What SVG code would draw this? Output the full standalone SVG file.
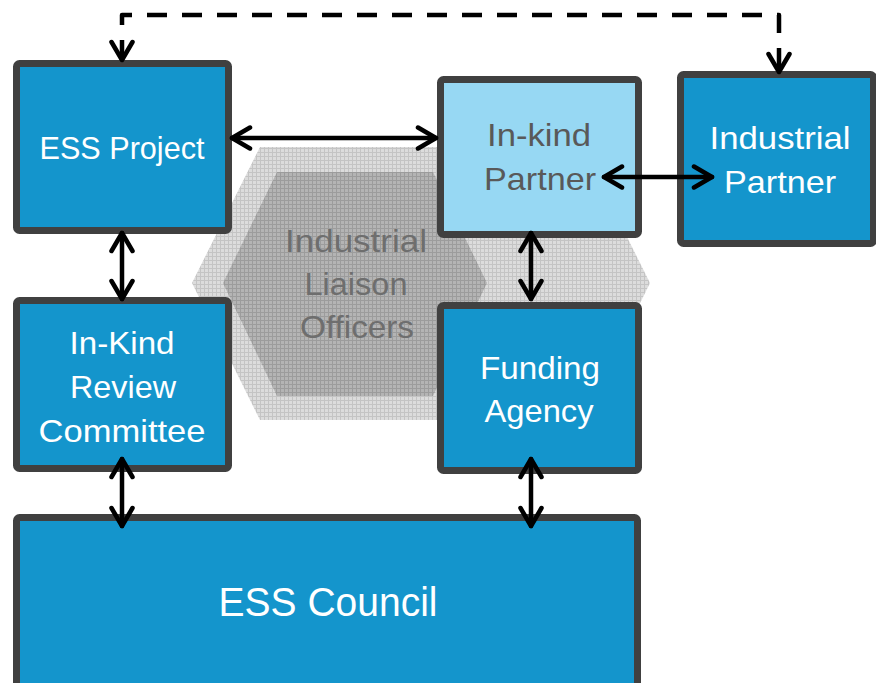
<svg xmlns="http://www.w3.org/2000/svg" width="876" height="683" viewBox="0 0 876 683">
<style>
.box{fill:#1495CC;stroke:#404040;stroke-width:7;}
.light{fill:#97D8F3;}
.t{font-family:"Liberation Sans",Arial,sans-serif;font-size:32px;text-anchor:middle;fill:#ffffff;}
.g{fill:#595959;}
.h{fill:#6e6e6e;}
.c{stroke:#000;stroke-width:4.5;fill:none;stroke-linecap:round;stroke-linejoin:round;}
.d{stroke-dasharray:20 15;stroke-linecap:butt;}
</style>
<defs>
<pattern id="p1" width="4" height="4" patternUnits="userSpaceOnUse">
<rect width="4" height="4" fill="#dcdcdc"/>
<path d="M0 0.5H4M0.5 0V4" stroke="#c4c4c4" stroke-width="1"/>
</pattern>
<pattern id="p2" width="4" height="4" patternUnits="userSpaceOnUse">
<rect width="4" height="4" fill="#b4b4b4"/>
<path d="M0 0.5H4M0.5 0V4" stroke="#9c9c9c" stroke-width="1"/>
</pattern>
<marker id="a" viewBox="0 0 26 26" refX="22" refY="13" markerWidth="26" markerHeight="26" markerUnits="userSpaceOnUse" orient="auto-start-reverse">
<path d="M4 2.5 L22 13 L4 23.5" fill="none" stroke="#000" stroke-width="4.5" stroke-linecap="round" stroke-linejoin="round"/>
</marker>
</defs>
<g id="liaison">
<polygon points="192,283 260,147 582,147 650,283 582,420 260,420" fill="url(#p1)"/>
<polygon points="223,283 277,172 433,172 487,283 433,396 277,396" fill="url(#p2)"/>
<text class="t h" x="356" y="252" textLength="142" lengthAdjust="spacingAndGlyphs">Industrial</text>
<text class="t h" x="356" y="295" textLength="103" lengthAdjust="spacingAndGlyphs">Liaison</text>
<text class="t h" x="357" y="338" textLength="114" lengthAdjust="spacingAndGlyphs">Officers</text>
</g>
<g id="ess-project">
<rect class="box" x="16.5" y="63.5" width="212" height="167" rx="3"/>
<text class="t" x="122" y="159" textLength="165" lengthAdjust="spacingAndGlyphs">ESS Project</text>
</g>
<g id="inkind-partner">
<rect class="box light" x="440.5" y="79.5" width="198" height="155" rx="3"/>
<text class="t g" x="539" y="146" textLength="104" lengthAdjust="spacingAndGlyphs">In-kind</text>
<text class="t g" x="540" y="190" textLength="112" lengthAdjust="spacingAndGlyphs">Partner</text>
</g>
<g id="industrial-partner">
<rect class="box" x="680.5" y="74.5" width="193" height="169" rx="3"/>
<text class="t" x="780" y="149" textLength="141" lengthAdjust="spacingAndGlyphs">Industrial</text>
<text class="t" x="780" y="193" textLength="112" lengthAdjust="spacingAndGlyphs">Partner</text>
</g>
<g id="review-committee">
<rect class="box" x="16.5" y="300.5" width="212" height="168" rx="3"/>
<text class="t" x="122" y="354" textLength="105" lengthAdjust="spacingAndGlyphs">In-Kind</text>
<text class="t" x="123" y="398" textLength="106" lengthAdjust="spacingAndGlyphs">Review</text>
<text class="t" x="122" y="442" textLength="167" lengthAdjust="spacingAndGlyphs">Committee</text>
</g>
<g id="funding-agency">
<rect class="box" x="440.5" y="305.5" width="198" height="165" rx="3"/>
<text class="t" x="540" y="379" textLength="120" lengthAdjust="spacingAndGlyphs">Funding</text>
<text class="t" x="539" y="422" textLength="109" lengthAdjust="spacingAndGlyphs">Agency</text>
</g>
<g id="ess-council">
<rect class="box" x="16.5" y="517.5" width="621" height="175" rx="3"/>
<text class="t" x="328" y="616" style="font-size:41px" textLength="219" lengthAdjust="spacingAndGlyphs">ESS Council</text>
</g>
<g id="connectors">
<line class="c" x1="232" y1="138" x2="436" y2="138" marker-start="url(#a)" marker-end="url(#a)"/>
<line class="c" x1="604" y1="177" x2="712" y2="177" marker-start="url(#a)" marker-end="url(#a)"/>
<line class="c" x1="122" y1="233" x2="122" y2="299" marker-start="url(#a)" marker-end="url(#a)"/>
<line class="c" x1="531" y1="233" x2="531" y2="299" marker-start="url(#a)" marker-end="url(#a)"/>
<line class="c" x1="122" y1="459" x2="122" y2="526" marker-start="url(#a)" marker-end="url(#a)"/>
<line class="c" x1="531" y1="459" x2="531" y2="526" marker-start="url(#a)" marker-end="url(#a)"/>
<path class="c d" d="M122 60 V15 H779 V72" marker-start="url(#a)" marker-end="url(#a)"/>
</g>
</svg>
